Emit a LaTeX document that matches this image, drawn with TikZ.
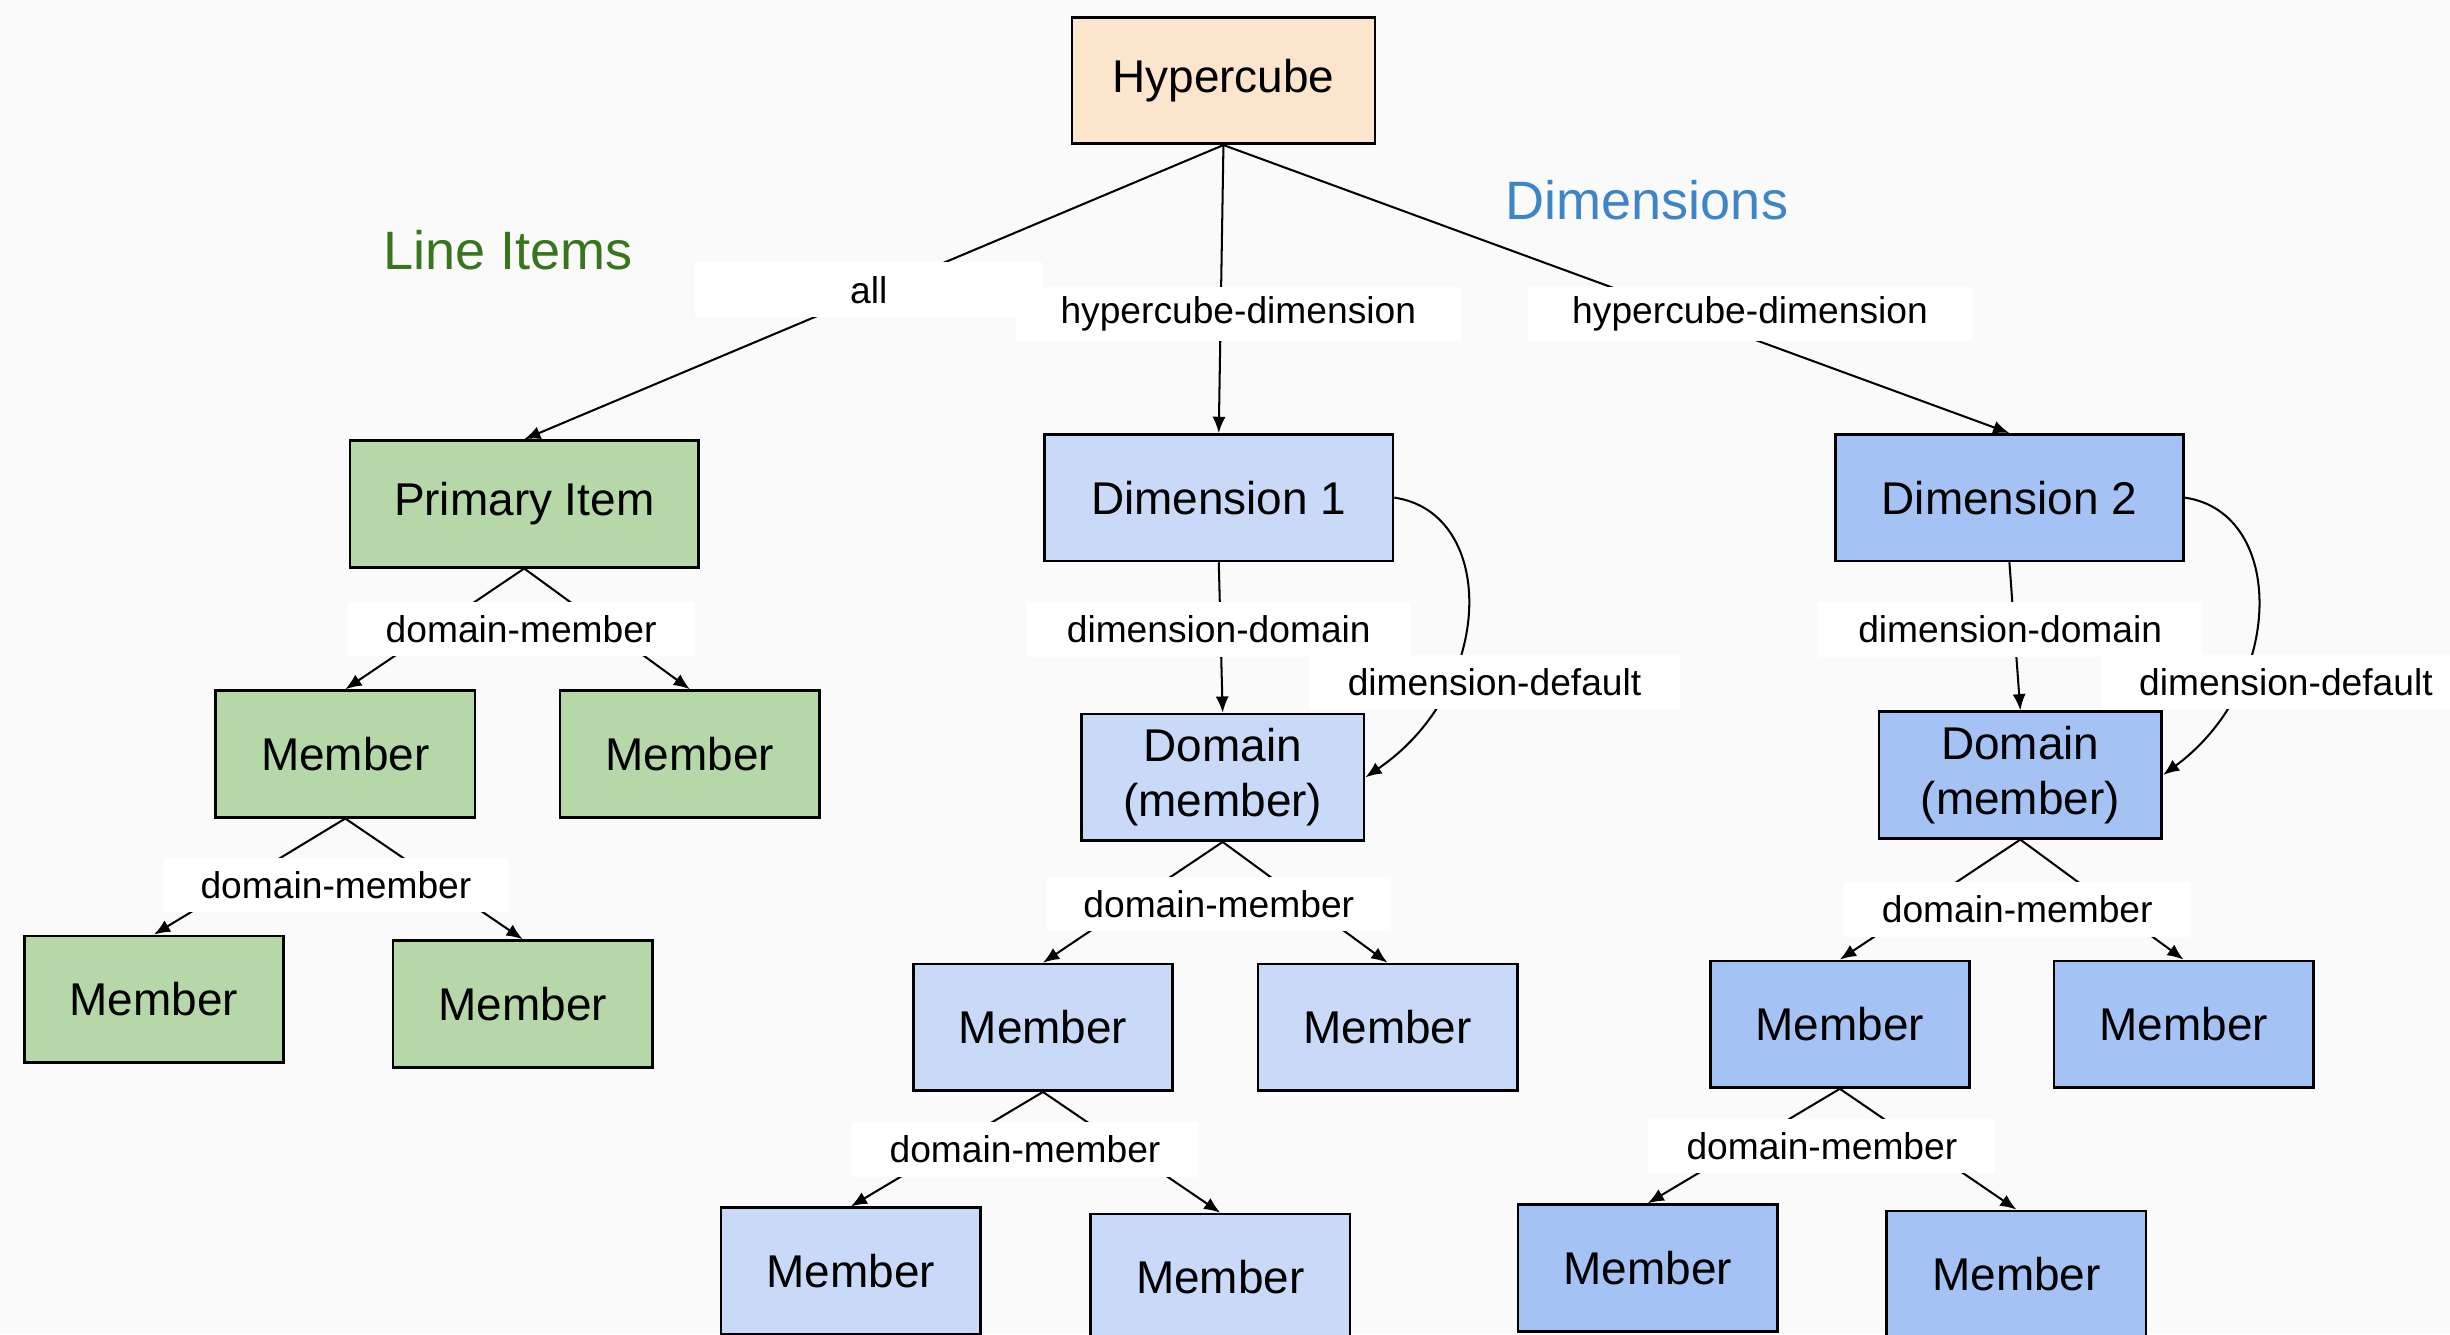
\documentclass[tikz,border=0pt]{standalone}
\usepackage{fontspec}
\setmainfont{Liberation Sans}
\usetikzlibrary{arrows.meta}
\definecolor{bg}{HTML}{FAFAFA}
\definecolor{hcfill}{HTML}{FCE5CD}
\definecolor{gfill}{HTML}{B6D7A8}
\definecolor{b1fill}{HTML}{C9DAF8}
\definecolor{b2fill}{HTML}{A4C2F4}
\definecolor{gtext}{HTML}{38761D}
\definecolor{btext}{HTML}{3D85C6}
\tikzset{
  box/.style={draw=black, line width=0.85pt, inner sep=0pt, minimum height=40.5pt,
    font=\fontsize{14.7}{17.5}\selectfont, align=center},
  mem/.style={box, minimum width=83pt},
  wide/.style={box, minimum width=111.5pt},
  lab/.style={fill=white, inner sep=0pt, minimum height=17.5pt,
    font=\fontsize{11.9}{14}\selectfont},
  conn/.style={line width=0.65pt},
  arr/.style={conn, -{Latex[length=5.2pt,width=4.2pt]}},
  heading/.style={font=\fontsize{17.3}{20}\selectfont, inner sep=0pt},
}
\begin{document}
\begin{tikzpicture}[x=0.5pt, y=-0.5pt]
\fill[bg] (0,0) rectangle (1568,854);
\useasboundingbox (0,0) rectangle (1568,854);

% headings
\node[heading, text=gtext] (hli) at (325,160) {Line Items};
\node[heading, text=btext] (hdim) at (1054,128) {Dimensions};

% nodes
\node[box, fill=hcfill, minimum width=97pt] (hc) at (783,51.5) {Hypercube};

\node[wide, fill=gfill] (pi) at (335.5,322.5) {Primary Item};
\node[mem, fill=gfill] (g1) at (221,482.5) {Member};
\node[mem, fill=gfill] (g2) at (441.5,482.5) {Member};
\node[mem, fill=gfill] (g3) at (98.5,639.5) {Member};
\node[mem, fill=gfill] (g4) at (334.5,642.5) {Member};

\node[wide, fill=b1fill] (d1) at (780,318.5) {Dimension 1};
\node[box, fill=b1fill, minimum width=90.5pt] (dom1) at (782.5,497.5) {Domain\\(member)};
\node[mem, fill=b1fill] (b1) at (667.5,657.5) {Member};
\node[mem, fill=b1fill] (b2) at (888,657.5) {Member};
\node[mem, fill=b1fill] (b3) at (544.5,813.5) {Member};
\node[mem, fill=b1fill] (b4) at (781,817.5) {Member};

\node[wide, fill=b2fill] (d2) at (1286,318.5) {Dimension 2};
\node[box, fill=b2fill, minimum width=90.5pt] (dom2) at (1293,496) {Domain\\(member)};
\node[mem, fill=b2fill] (c1) at (1177.5,655.5) {Member};
\node[mem, fill=b2fill] (c2) at (1397.5,655.5) {Member};
\node[mem, fill=b2fill] (c3) at (1054.5,811.5) {Member};
\node[mem, fill=b2fill] (c4) at (1290.5,815.5) {Member};

% connectors
\draw[arr] (hc.south) -- (pi.north);
\draw[arr] (hc.south) -- (d1.north);
\draw[arr] (hc.south) -- (d2.north);

\draw[arr] (pi.south) -- (g1.north);
\draw[arr] (pi.south) -- (g2.north);
\draw[arr] (g1.south) -- (g3.north);
\draw[arr] (g1.south) -- (g4.north);

\draw[arr] (d1.east) .. controls (958,328) and (958,440) .. (dom1.east);
\draw[arr] (d1.south) -- (dom1.north);
\draw[arr] (dom1.south) -- (b1.north);
\draw[arr] (dom1.south) -- (b2.north);
\draw[arr] (b1.south) -- (b3.north);
\draw[arr] (b1.south) -- (b4.north);

\draw[arr] (d2.east) .. controls (1463,328) and (1463,438) .. (dom2.east);
\draw[arr] (d2.south) -- (dom2.north);
\draw[arr] (dom2.south) -- (c1.north);
\draw[arr] (dom2.south) -- (c2.north);
\draw[arr] (c1.south) -- (c3.north);
\draw[arr] (c1.south) -- (c4.north);

% labels
\node[lab, minimum width=111.5pt] (lall) at (556,185.5) {all};
\node[lab, minimum width=142.5pt] (lhd1) at (792.5,201) {hypercube-dimension};
\node[lab, minimum width=142pt] (lhd2) at (1120,201) {hypercube-dimension};
\node[lab, minimum width=123pt] (ldd1) at (780,403) {dimension-domain};
\node[lab, minimum width=123pt] (ldd2) at (1286.5,403) {dimension-domain};
\node[lab, minimum width=118.5pt] (ldf1) at (956.5,436.5) {dimension-default};
\node[lab, minimum width=118.5pt] (ldf2) at (1463,436.5) {dimension-default};
\node[lab, minimum width=111pt] (ldm1) at (333.5,402.5) {domain-member};
\node[lab, minimum width=110pt] (ldm2) at (215,566.5) {domain-member};
\node[lab, minimum width=110pt] (ldm3) at (780,578.5) {domain-member};
\node[lab, minimum width=111pt] (ldm4) at (656,735.5) {domain-member};
\node[lab, minimum width=111pt] (ldm5) at (1291,582) {domain-member};
\node[lab, minimum width=111pt] (ldm6) at (1166,733.5) {domain-member};
\end{tikzpicture}
\end{document}
